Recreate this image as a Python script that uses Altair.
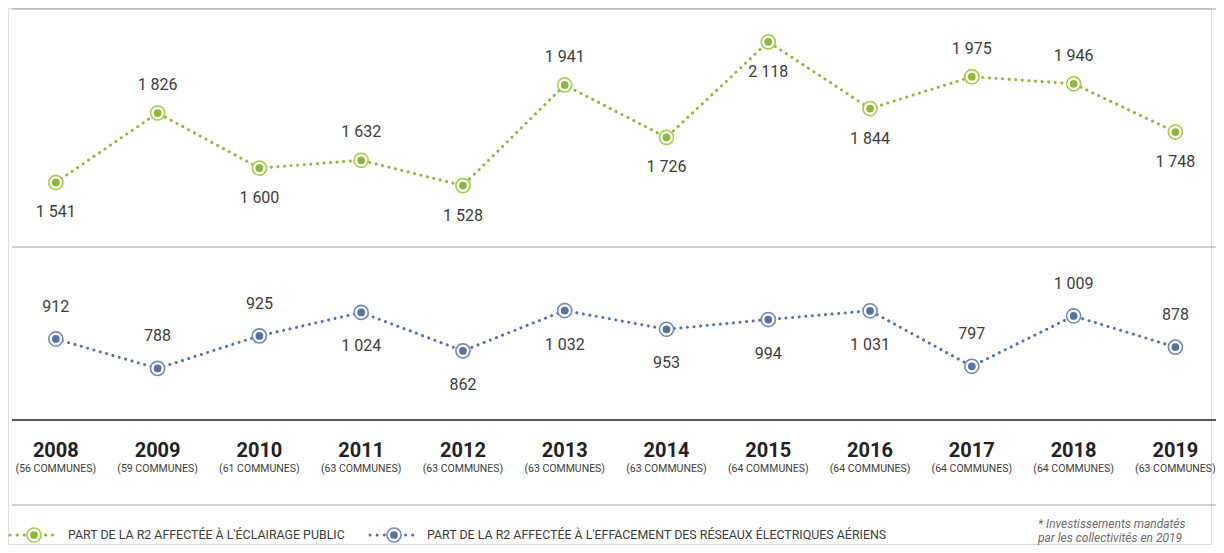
import altair as alt
import pandas as pd

years = [2008, 2009, 2010, 2011, 2012, 2013, 2014, 2015, 2016, 2017, 2018, 2019]
communes = [56, 59, 61, 63, 63, 63, 63, 64, 64, 64, 64, 63]
eclairage = [1541, 1826, 1600, 1632, 1528, 1941, 1726, 2118, 1844, 1975, 1946, 1748]
eclairage_pos = ["below", "above", "below", "above", "below", "above", "below",
                 "below", "below", "above", "above", "below"]
effacement = [912, 788, 925, 1024, 862, 1032, 953, 994, 1031, 797, 1009, 878]
effacement_pos = ["above", "above", "above", "below", "below", "below", "below",
                  "below", "below", "above", "above", "above"]
legend_labels = ["PART DE LA R2 AFFECTÉE À L'ÉCLAIRAGE PUBLIC",
                 "PART DE LA R2 AFFECTÉE À L'EFFACEMENT DES RÉSEAUX ÉLECTRIQUES AÉRIENS"]
footnote = ["* Investissements mandatés", "par les collectivités en 2019"]

GREEN = "#8cb83c"
GREEN_RING = "#a6ca4a"
BLUE = "#5872a4"
BLUE_RING = "#6e89bb"
TXT = "#3c3c3c"
FONT = "Roboto, sans-serif"

W, H = 1208, 537


def fmt(v):
    return f"{v:,}".replace(",", " ")


df_g = pd.DataFrame({"year": years, "value": eclairage, "pos": eclairage_pos,
                     "label": [fmt(v) for v in eclairage]})
df_b = pd.DataFrame({"year": years, "value": effacement, "pos": effacement_pos,
                     "label": [fmt(v) for v in effacement]})
df_y = pd.DataFrame({"year": years,
                     "ylab": [str(y) for y in years],
                     "clab": [f"({c} COMMUNES)" for c in communes]})

xs = alt.Scale(domain=[2007.53, 2019.35])
X = alt.X("year:Q", scale=xs, axis=None)


def series(df, dom, color, ring, dy_above, dy_below):
    Y = alt.Y("value:Q", scale=alt.Scale(domain=dom), axis=None)
    base = alt.Chart(df).encode(x=X, y=Y)
    line = base.mark_line(color=color, strokeWidth=3, strokeDash=[0.1, 6.5],
                          strokeCap="round")
    outer = base.mark_point(shape="circle", size=200, filled=True, fill="white",
                            stroke=ring, strokeWidth=1.6, opacity=1)
    inner = base.mark_circle(size=60, color=color, opacity=1)
    above = base.transform_filter(alt.datum.pos == "above").mark_text(
        dy=dy_above, font=FONT, fontSize=16, color=TXT).encode(text="label:N")
    below = base.transform_filter(alt.datum.pos == "below").mark_text(
        dy=dy_below, font=FONT, fontSize=16, color=TXT).encode(text="label:N")
    return [line, outer, inner, above, below]


layers = []

# horizontal separators
for yy, col, sw in [(1, "#9a9a9a", 1), (239, "#a0a0a0", 1), (412, "#555555", 2), (497, "#a0a0a0", 1)]:
    layers.append(alt.Chart(df_y.head(1)).mark_rule(color=col, strokeWidth=sw).encode(
        x=alt.value(4), x2=alt.value(W), y=alt.value(yy)))

layers += series(df_g, [57, 2257], GREEN, GREEN_RING, -28, 30)
layers += series(df_b, [48, 2307], BLUE, BLUE_RING, -32, 34)

# year labels
yb = alt.Chart(df_y).encode(x=X)
layers.append(yb.mark_text(font=FONT, fontSize=20, fontWeight="bold", color="#222222",
                           baseline="middle").encode(y=alt.value(443), text="ylab:N"))
layers.append(yb.mark_text(font=FONT, fontSize=10.5, color=TXT,
                           baseline="middle").encode(y=alt.value(461), text="clab:N"))

# legend
leg = pd.DataFrame({"label": legend_labels})
LY = 527
for i, (col, ring, lx0, tx) in enumerate([(GREEN, GREEN_RING, 2, 60), (BLUE, BLUE_RING, 362, 419)]):
    src = alt.Chart(leg.iloc[[i]])
    layers.append(src.mark_rule(color=col, strokeWidth=3, strokeDash=[0.1, 7],
                                strokeCap="round").encode(
        x=alt.value(lx0), x2=alt.value(lx0 + 48), y=alt.value(LY)))
    layers.append(src.mark_point(shape="circle", size=200, filled=True, fill="white",
                                 stroke=ring, strokeWidth=1.6, opacity=1).encode(
        x=alt.value(lx0 + 24), y=alt.value(LY)))
    layers.append(src.mark_circle(size=60, color=col, opacity=1).encode(
        x=alt.value(lx0 + 24), y=alt.value(LY)))
    layers.append(src.mark_text(font=FONT, fontSize=12.4, color=TXT, align="left",
                                baseline="middle").encode(
        x=alt.value(tx), y=alt.value(LY), text="label:N"))

fn = pd.DataFrame({"t": footnote})
for i, fy in enumerate([516, 530]):
    layers.append(alt.Chart(fn.iloc[[i]]).mark_text(
        font=FONT, fontSize=12, fontStyle="italic", color="#6a6a6a", align="left",
        baseline="middle").encode(
        x=alt.value(1030), y=alt.value(fy), text="t:N"))

chart = alt.layer(*layers).resolve_scale(y="independent").properties(
    width=W, height=H,
    autosize=alt.AutoSizeParams(type="fit", contains="padding"),
    padding=0,
).configure_view(stroke=None).configure(background="white")

chart.save("out.html", embed_options={"renderer": "svg", "actions": False})
